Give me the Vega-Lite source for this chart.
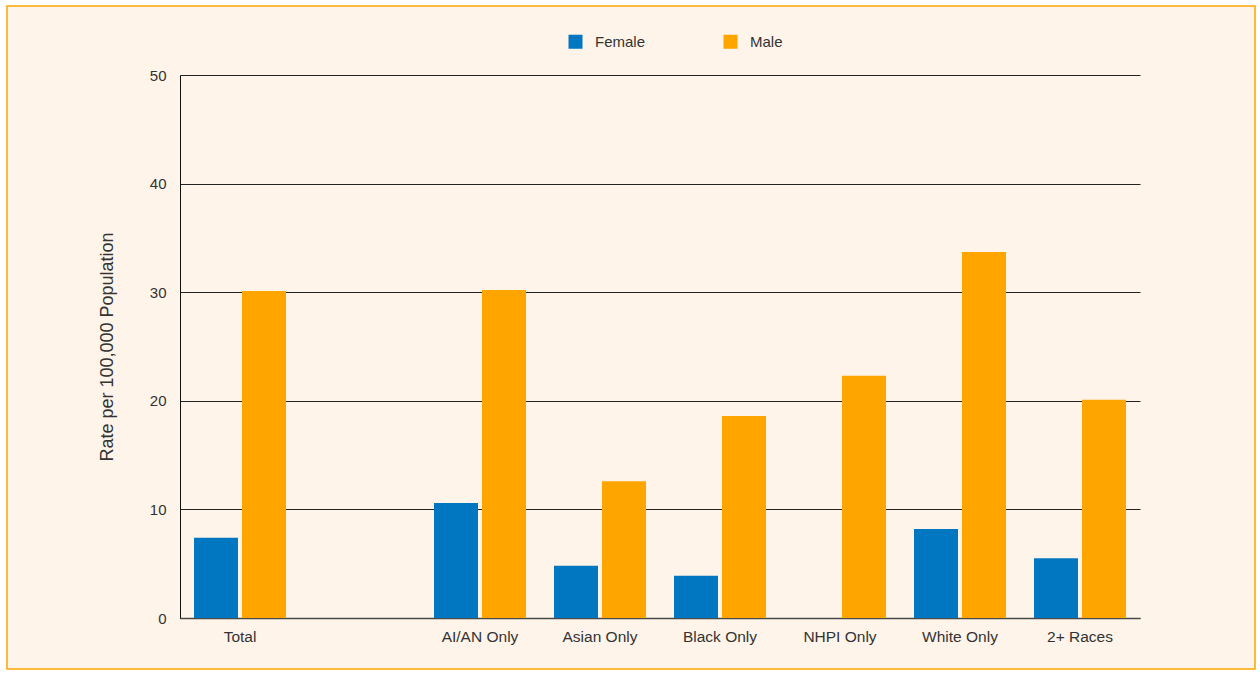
{
  "$schema": "https://vega.github.io/schema/vega-lite/v6.json",
  "autosize": "none",
  "width": 1248,
  "height": 663,
  "padding": {"left": 7, "top": 6, "right": 5, "bottom": 11},
  "background": "#ffffff",
  "config": {
    "view": {"fill": "#fef4e9", "stroke": "#ffa500", "strokeWidth": 1.5},
    "font": "Liberation Sans",
    "axis": {
      "labelFont": "Liberation Sans",
      "titleFont": "Liberation Sans",
      "labelColor": "#333333",
      "titleColor": "#333333",
      "ticks": false
    },
    "legend": {"labelFont": "Liberation Sans", "labelColor": "#333333"}
  },
  "data": {
    "values": [
      {"group": "Total", "sex": "Female", "rate": 7.4},
      {"group": "Total", "sex": "Male", "rate": 30.1},
      {"group": "AI/AN Only", "sex": "Female", "rate": 10.6},
      {"group": "AI/AN Only", "sex": "Male", "rate": 30.2},
      {"group": "Asian Only", "sex": "Female", "rate": 4.8},
      {"group": "Asian Only", "sex": "Male", "rate": 12.6},
      {"group": "Black Only", "sex": "Female", "rate": 3.9},
      {"group": "Black Only", "sex": "Male", "rate": 18.6},
      {"group": "NHPI Only", "sex": "Male", "rate": 22.3},
      {"group": "White Only", "sex": "Female", "rate": 8.2},
      {"group": "White Only", "sex": "Male", "rate": 33.7},
      {"group": "2+ Races", "sex": "Female", "rate": 5.5},
      {"group": "2+ Races", "sex": "Male", "rate": 20.1}
    ]
  },
  "mark": {"type": "bar"},
  "encoding": {
    "x": {
      "field": "group",
      "type": "nominal",
      "scale": {
        "domain": ["Total", " ", "AI/AN Only", "Asian Only", "Black Only", "NHPI Only", "White Only", "2+ Races"],
        "range": [173, 1133],
        "paddingInner": 0,
        "paddingOuter": 0
      },
      "axis": {
        "title": null,
        "offset": -51,
        "labelAngle": 0,
        "labelFontSize": 15.5,
        "labelPadding": 11,
        "domainColor": "#4a4a4a",
        "domainWidth": 1.5,
        "grid": false
      }
    },
    "xOffset": {
      "field": "sex",
      "type": "nominal",
      "scale": {"domain": ["Female", "Male"], "paddingInner": 0.0833, "paddingOuter": 0.2917}
    },
    "y": {
      "field": "rate",
      "type": "quantitative",
      "scale": {"domain": [0, 50], "range": [612, 69], "nice": false, "zero": true},
      "axis": {
        "title": "Rate per 100,000 Population",
        "titleFontSize": 18,
        "titleFontWeight": "normal",
        "titlePadding": 33,
        "offset": -173,
        "values": [0, 10, 20, 30, 40, 50],
        "labelFontSize": 15,
        "labelPadding": 14,
        "domainColor": "#111111",
        "domainWidth": 1,
        "grid": true,
        "gridColor": "#222222",
        "gridWidth": 1,
        "gridOpacity": 1
      }
    },
    "color": {
      "field": "sex",
      "type": "nominal",
      "scale": {"domain": ["Female", "Male"], "range": ["#0077c0", "#ffa500"]},
      "legend": {
        "title": null,
        "orient": "none",
        "direction": "horizontal",
        "legendX": 561,
        "legendY": 28,
        "padding": 0,
        "symbolType": "square",
        "symbolSize": 196,
        "symbolStrokeWidth": 0,
        "labelFontSize": 15,
        "labelOffset": 12,
        "columnPadding": 77
      }
    }
  }
}
